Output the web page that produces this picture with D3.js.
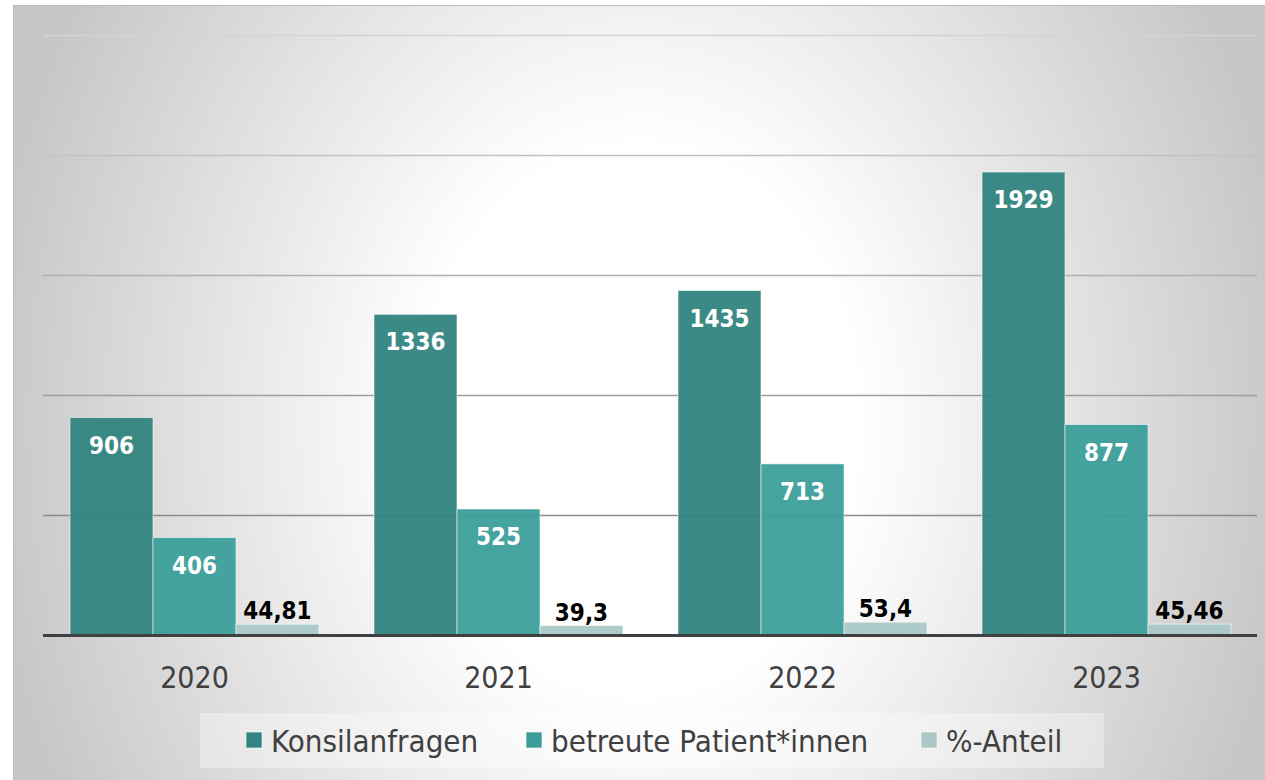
<!DOCTYPE html>
<html>
<head>
<meta charset="utf-8">
<script src="https://cdn.jsdelivr.net/npm/d3@7"></script>
<style>
  body { margin: 0; background: #fff; }
  svg { display: block; }
</style>
</head>
<body>
<svg id="chart" width="1265" height="780"></svg>
<script>
// data
var years = ["2020", "2021", "2022", "2023"];
var seriesNames = ["Konsilanfragen", "betreute Patient*innen", "%-Anteil"];
var konsil = [906, 1336, 1435, 1929];
var betreut = [406, 525, 713, 877];
var anteil = [44.81, 39.3, 53.4, 45.46];
var anteilLabels = ["44,81", "39,3", "53,4", "45,46"];
var yTicks = [0, 500, 1000, 1500, 2000, 2500];

var colors = ["#328480", "#3b9e9b", "#a9c8c7"];

var svg = d3.select("#chart");
var W = 1265, H = 780;

// background
var defs = svg.append("defs");
var rg = defs.append("radialGradient").attr("id", "bg")
  .attr("gradientUnits", "userSpaceOnUse")
  .attr("cx", 640).attr("cy", 420).attr("r", 660)
  .attr("gradientTransform", "translate(0,420) scale(1,1.25) translate(0,-420)");
rg.append("stop").attr("offset", "0%").attr("stop-color", "#ffffff");
rg.append("stop").attr("offset", "33%").attr("stop-color", "#ffffff");
rg.append("stop").attr("offset", "100%").attr("stop-color", "#c6c6c6");

svg.append("rect").attr("x", 13).attr("y", 5).attr("width", W - 13).attr("height", H - 5)
  .attr("fill", "url(#bg)");
svg.append("line").attr("x1", 13).attr("x2", W).attr("y1", 5.5).attr("y2", 5.5)
  .attr("stroke", "#bdbdbd").attr("stroke-width", 1);
svg.append("line").attr("x1", 13.5).attr("x2", 13.5).attr("y1", 5).attr("y2", H)
  .attr("stroke", "#bdbdbd").attr("stroke-width", 1);

// scales
var x0 = d3.scaleBand().domain(years).range([42.5, 1258.5]).paddingInner(0.181).paddingOuter(0.0905);
var x1 = d3.scaleBand().domain(seriesNames).range([0, x0.bandwidth()]).padding(0);
var y = d3.scaleLinear().domain([0, 2500]).range([635, 35]);

// gridlines
var gridColor = d3.scaleLinear().domain([2500, 500]).range(["#d4d4d4", "#8c8c8c"]);
svg.append("g").selectAll("line")
  .data(yTicks.filter(function(d){ return d > 0; }))
  .join("line")
  .attr("x1", 43).attr("x2", 1257)
  .attr("y1", function(d){ return Math.round(y(d)) + 0.5; })
  .attr("y2", function(d){ return Math.round(y(d)) + 0.5; })
  .attr("stroke", function(d){ return gridColor(d); })
  .attr("stroke-width", 1.3);

// bars
var rows = years.map(function(yr, i){
  return { year: yr, values: [konsil[i], betreut[i], anteil[i]], anteilLabel: anteilLabels[i] };
});

var groups = svg.append("g").selectAll("g")
  .data(rows)
  .join("g")
  .attr("transform", function(d){ return "translate(" + x0(d.year) + ",0)"; });

groups.selectAll("rect")
  .data(function(d){ return d.values.map(function(v, j){ return { name: seriesNames[j], value: v, j: j }; }); })
  .join("rect")
  .attr("x", function(d){ return x1(d.name); })
  .attr("y", function(d){ return y(d.value); })
  .attr("width", x1.bandwidth())
  .attr("height", function(d){ return y(0) - y(d.value); })
  .attr("fill", function(d){ return colors[d.j]; })
  .attr("fill-opacity", 0.95)
  .attr("stroke", "rgba(255,255,255,0.55)")
  .attr("stroke-width", 1);

// value labels
groups.selectAll("text.val")
  .data(function(d){
    return [
      { name: seriesNames[0], value: d.values[0], txt: String(d.values[0]), inside: true },
      { name: seriesNames[1], value: d.values[1], txt: String(d.values[1]), inside: true },
      { name: seriesNames[2], value: d.values[2], txt: d.anteilLabel, inside: false }
    ];
  })
  .join("text")
  .attr("class", "val")
  .attr("x", function(d){ return x1(d.name) + x1.bandwidth() / 2; })
  .attr("y", function(d){ return d.inside ? y(d.value) + 36 : y(d.value) - 5; })
  .attr("text-anchor", "middle")
  .attr("font-family", "'DejaVu Sans Condensed', 'DejaVu Sans', sans-serif")
  .attr("font-weight", "bold")
  .attr("font-size", 24)
  .attr("fill", function(d){ return d.inside ? "#ffffff" : "#000000"; })
  .text(function(d){ return d.txt; });

// baseline
svg.append("line")
  .attr("x1", 43).attr("x2", 1257)
  .attr("y1", y(0) + 0.5).attr("y2", y(0) + 0.5)
  .attr("stroke", "#404040").attr("stroke-width", 3);

// x axis labels
var xAxis = svg.append("g")
  .attr("transform", "translate(0," + (y(0) + 1) + ")")
  .call(d3.axisBottom(x0).tickSize(0).tickPadding(31));
xAxis.select(".domain").remove();
xAxis.selectAll("text")
  .attr("font-family", "'DejaVu Sans Condensed', 'DejaVu Sans', sans-serif")
  .attr("font-size", 30)
  .attr("fill", "#404040");

// legend
var legend = svg.append("g");
legend.append("rect").attr("x", 200).attr("y", 713).attr("width", 904).attr("height", 55)
  .attr("fill", "#ffffff").attr("fill-opacity", 0.35);
var legendX = [246, 526, 921];
var li = legend.selectAll("g.item")
  .data(seriesNames)
  .join("g")
  .attr("class", "item")
  .attr("transform", function(d, i){ return "translate(" + legendX[i] + ",732)"; });
li.append("rect").attr("width", 16).attr("height", 16)
  .attr("fill", function(d, i){ return colors[i]; })
  .attr("stroke", "rgba(255,255,255,0.6)").attr("stroke-width", 1);
li.append("text")
  .attr("x", 25).attr("y", 20)
  .attr("font-family", "'DejaVu Sans Condensed', 'DejaVu Sans', sans-serif")
  .attr("font-size", 31)
  .attr("fill", "#404040")
  .text(function(d){ return d; });
</script>
</body>
</html>
